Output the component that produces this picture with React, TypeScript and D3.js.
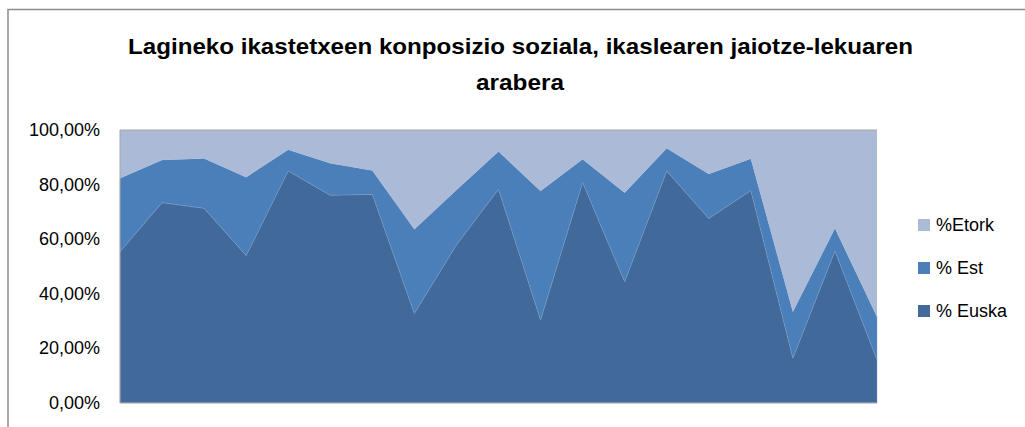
import React from "react";
import * as d3 from "d3";

const categories = ["1","2","3","4","5","6","7","8","9","10","11","12","13","14","15","16","17","18","19"];
const euska = [0.554, 0.734, 0.713, 0.540, 0.850, 0.761, 0.764, 0.328, 0.579, 0.783, 0.304, 0.808, 0.444, 0.850, 0.676, 0.778, 0.164, 0.557, 0.158];
const est = [0.269, 0.156, 0.183, 0.287, 0.078, 0.117, 0.088, 0.308, 0.201, 0.138, 0.473, 0.085, 0.326, 0.083, 0.163, 0.117, 0.170, 0.083, 0.158];
const etork = [0.177, 0.110, 0.104, 0.173, 0.072, 0.122, 0.148, 0.364, 0.220, 0.079, 0.223, 0.107, 0.230, 0.067, 0.161, 0.105, 0.666, 0.360, 0.684];
const seriesNames = ["% Euska", "% Est", "%Etork"];
const seriesColors = ["#41699A", "#4B7FBA", "#AABAD7"];
const yTicks = [0, 0.2, 0.4, 0.6, 0.8, 1.0];
const titleLines = ["Lagineko ikastetxeen konposizio soziala, ikaslearen jaiotze-lekuaren", "arabera"];

export default function App() {
  const W = 1025, H = 427;
  const plot = { left: 120, right: 877, top: 130, bottom: 403 };
  const x = d3.scaleLinear().domain([0, categories.length - 1]).range([plot.left, plot.right]);
  const y = d3.scaleLinear().domain([0, 1]).range([plot.bottom, plot.top]);
  const rows = categories.map((c, i) => ({ cat: c, s0: euska[i], s1: est[i], s2: etork[i] }));
  const stack = d3.stack<any>().keys(["s0", "s1", "s2"]);
  const layers = stack(rows);
  const area = d3.area<any>()
    .x((_d, i) => x(i))
    .y0((d) => y(Math.min(1, d[0])))
    .y1((d) => y(Math.min(1, d[1])));
  const fmt = (v: number) => (v * 100).toFixed(2).replace(".", ",") + "%";
  const font = "'Liberation Sans', Arial, sans-serif";
  const legendOrder = [2, 1, 0];
  return (
    <svg width={W} height={H} style={{ position: "absolute", left: 0, top: 0, background: "#fff" }}>
      <rect x={8} y={9.5} width={1100} height={500} fill="#fff" stroke="#8c8c8c" strokeWidth={1.5} />
      <text x={520.5} y={54} textAnchor="middle" fontFamily={font} fontWeight="bold" fontSize={22}
        textLength={785} lengthAdjust="spacingAndGlyphs">{titleLines[0]}</text>
      <text x={520} y={89.5} textAnchor="middle" fontFamily={font} fontWeight="bold" fontSize={22}
        textLength={88} lengthAdjust="spacingAndGlyphs">{titleLines[1]}</text>
      {layers.map((layer, k) => (
        <path key={k} d={area(layer as any) || ""} fill={seriesColors[k]}
          stroke={k < 2 ? "#7a9cc8" : "none"} strokeWidth={k < 2 ? 0.6 : 0} strokeOpacity={0.6} />
      ))}
      <line x1={plot.left} x2={plot.right} y1={plot.top} y2={plot.top} stroke="#a6a6a6" strokeWidth={1} />
      <line x1={plot.left} x2={plot.right} y1={plot.bottom} y2={plot.bottom} stroke="#b0b0b0" strokeWidth={1} />
      <line x1={plot.left} x2={plot.left} y1={plot.top} y2={plot.bottom} stroke="#a6a6a6" strokeWidth={1} />
      {yTicks.map((t) => (
        <text key={t} x={100} y={y(t) + 6} textAnchor="end" fontFamily={font} fontSize={18} fill="#000">{fmt(t)}</text>
      ))}
      {legendOrder.map((k, j) => (
        <g key={k} transform={`translate(918, ${219 + j * 43})`}>
          <rect x={0} y={0} width={12} height={12} fill={seriesColors[k]} />
          <text x={18} y={12} fontFamily={font} fontSize={18} fill="#000">{seriesNames[k]}</text>
        </g>
      ))}
    </svg>
  );
}
